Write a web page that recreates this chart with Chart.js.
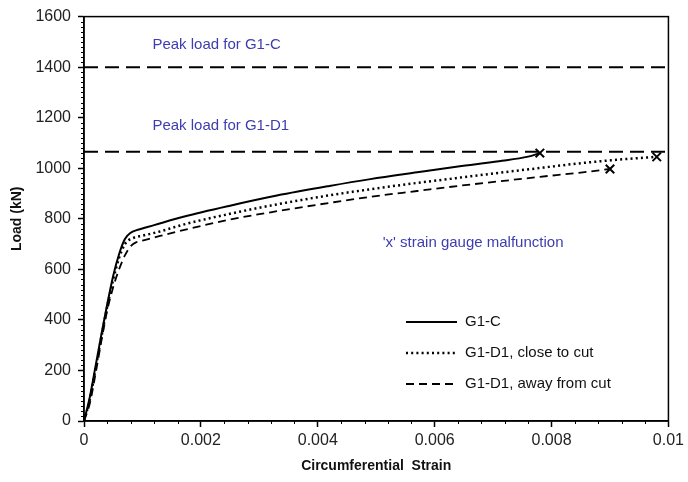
<!DOCTYPE html>
<html>
<head>
<meta charset="utf-8">
<script src="https://cdn.jsdelivr.net/npm/chart.js@4.4.1/dist/chart.umd.min.js"></script>
<style>
  html, body { margin: 0; padding: 0; background: #fff; }
  #wrap { width: 688px; height: 482px; position: relative; }
</style>
</head>
<body>
<div id="wrap"><canvas id="c" width="688" height="482"></canvas></div>
<script>
// ---- Data ----
const strainGC  = [0, 0.0001, 0.0002, 0.0003, 0.0004, 0.0005, 0.0006, 0.0007, 0.0008, 0.0009, 0.0012, 0.0017, 0.0025, 0.0033, 0.0042, 0.0049, 0.0057, 0.0064, 0.0071, 0.0076, 0.0078];
const loadGC    = [0, 95, 220, 345, 465, 575, 660, 720, 745, 755, 775, 808, 852, 892, 930, 957, 984, 1007, 1028, 1046, 1060];

const strainClose = [0, 0.0001, 0.0002, 0.0003, 0.0004, 0.0005, 0.0006, 0.0007, 0.00085, 0.001, 0.0013, 0.0017, 0.0025, 0.0033, 0.0042, 0.0049, 0.0057, 0.0064, 0.0071, 0.0078, 0.0085, 0.0093, 0.0098];
const loadClose   = [0, 85, 210, 335, 455, 560, 645, 700, 725, 733, 750, 777, 820, 857, 893, 917, 942, 962, 982, 1001, 1020, 1037, 1045];

const strainAway = [0, 0.0001, 0.0002, 0.0003, 0.0004, 0.0005, 0.0006, 0.0007, 0.0008, 0.0009, 0.001, 0.0013, 0.0017, 0.0025, 0.0033, 0.0042, 0.0049, 0.0057, 0.0064, 0.0071, 0.0078, 0.0085, 0.009];
const loadAway   = [0, 70, 190, 320, 440, 530, 600, 655, 692, 708, 714, 732, 755, 797, 830, 863, 887, 910, 930, 948, 966, 983, 997];

const seriesNames = ["G1-C", "G1-D1, close to cut", "G1-D1, away from cut"];
const peakLoads = [1400, 1065];
const peakLabels = ["Peak load for G1-C", "Peak load for G1-D1"];
const noteText = "'x' strain gauge malfunction";
const xTicks = [0, 0.002, 0.004, 0.006, 0.008, 0.01];
const yTicks = [0, 200, 400, 600, 800, 1000, 1200, 1400, 1600];

function pts(xs, ys) { return xs.map((x, i) => ({ x: x, y: ys[i] })); }

const BLUE = '#3d3daf';
const FONT = 'Arial, "Liberation Sans", sans-serif';

function lastOnly(val) {
  return ctx => (ctx.dataIndex === ctx.dataset.data.length - 1 ? val : 0);
}

const seriesStyle = [
  { borderDash: [], borderWidth: 2 },
  { borderDash: [2, 3.2], borderWidth: 2.5 },
  { borderDash: [8, 5], borderWidth: 1.8 }
];

const datasets = [
  { label: seriesNames[0], data: pts(strainGC, loadGC) },
  { label: seriesNames[1], data: pts(strainClose, loadClose) },
  { label: seriesNames[2], data: pts(strainAway, loadAway) }
].map((d, i) => Object.assign(d, {
  borderColor: '#000',
  backgroundColor: '#000',
  borderWidth: seriesStyle[i].borderWidth,
  borderDash: seriesStyle[i].borderDash,
  cubicInterpolationMode: 'monotone',
  fill: false,
  pointStyle: 'crossRot',
  pointRadius: lastOnly(6),
  pointHoverRadius: 0,
  pointBorderWidth: 2,
  pointBorderColor: '#000',
  isSeries: true
}));

peakLoads.forEach((p, i) => {
  datasets.push({
    label: peakLabels[i],
    data: [{ x: 0, y: p }, { x: 0.01, y: p }],
    borderColor: '#000',
    borderWidth: 2,
    borderDash: [14, 7],
    pointRadius: 0,
    fill: false
  });
});

const decor = {
  id: 'decor',
  afterDraw(chart) {
    const { ctx, chartArea: a, scales: { x, y } } = chart;
    ctx.save();
    // frame
    ctx.strokeStyle = '#000';
    ctx.lineWidth = 1.5;
    ctx.setLineDash([]);
    ctx.strokeRect(a.left, a.top, a.right - a.left, a.bottom - a.top);
    // minor ticks
    ctx.lineWidth = 1;
    for (let v = 0; v <= 1600.001; v += 20) {
      if (Math.abs(v % 200) < 0.01) continue;
      const py = Math.round(y.getPixelForValue(v)) + 0.5;
      ctx.beginPath(); ctx.moveTo(a.left - 3, py); ctx.lineTo(a.left, py); ctx.stroke();
    }
    for (let k = 0; k <= 25; k++) {
      if (k % 5 === 0) continue;
      const px = Math.round(x.getPixelForValue(k * 0.0004)) + 0.5;
      ctx.beginPath(); ctx.moveTo(px, a.bottom); ctx.lineTo(px, a.bottom + 3); ctx.stroke();
    }
    // annotation texts
    ctx.fillStyle = BLUE;
    ctx.font = '15px ' + FONT;
    ctx.textBaseline = 'middle';
    ctx.textAlign = 'left';
    ctx.fillText(peakLabels[0], x.getPixelForValue(0.00117), y.getPixelForValue(1490));
    ctx.fillText(peakLabels[1], x.getPixelForValue(0.00117), y.getPixelForValue(1168));
    ctx.fillText(noteText, x.getPixelForValue(0.00511), y.getPixelForValue(703));
    // legend
    const rows = [322, 353, 384];
    chart.data.datasets.filter(d => d.isSeries).forEach((d, i) => {
      const ry = rows[i];
      ctx.strokeStyle = '#000';
      ctx.lineWidth = d.borderWidth;
      ctx.setLineDash(d.borderDash);
      ctx.beginPath(); ctx.moveTo(406, ry); ctx.lineTo(457, ry); ctx.stroke();
      ctx.setLineDash([]);
      ctx.fillStyle = '#111';
      ctx.fillText(d.label, 465, ry);
    });
    ctx.restore();
  }
};

new Chart(document.getElementById('c'), {
  type: 'line',
  data: { datasets: datasets },
  plugins: [decor],
  options: {
    responsive: false,
    animation: false,
    layout: { padding: { left: 0, right: 19, top: 15, bottom: 0 } },
    plugins: { legend: { display: false }, tooltip: { enabled: false } },
    scales: {
      x: {
        type: 'linear',
        min: 0, max: 0.01,
        afterBuildTicks: s => { s.ticks = xTicks.map(v => ({ value: v })); },
        afterFit: s => { s.height = 61; },
        border: { display: true, color: '#000', width: 1.5 },
        grid: { drawOnChartArea: false, drawTicks: true, tickLength: 6, tickColor: '#000', tickWidth: 1.5 },
        ticks: {
          color: '#222', font: { family: FONT, size: 16 }, padding: 4, maxRotation: 0,
          callback: v => (v === 0 ? '0' : String(Number(v.toFixed(4))))
        },
        title: { display: true, text: 'Circumferential  Strain', color: '#111',
                 font: { family: FONT, size: 14, weight: 'bold' }, padding: { top: 0, bottom: 7 } }
      },
      y: {
        type: 'linear',
        min: 0, max: 1600,
        afterBuildTicks: s => { s.ticks = yTicks.map(v => ({ value: v })); },
        afterFit: s => { s.width = 84; },
        border: { display: true, color: '#000', width: 1.5 },
        grid: { drawOnChartArea: false, drawTicks: true, tickLength: 6, tickColor: '#000', tickWidth: 1.5 },
        ticks: { color: '#222', font: { family: FONT, size: 16 }, padding: 7,
                 callback: v => String(v) },
        title: { display: true, text: 'Load (kN)', color: '#111',
                 font: { family: FONT, size: 14, weight: 'bold' }, padding: { top: 9, bottom: 0 } }
      }
    }
  }
});
</script>
</body>
</html>
